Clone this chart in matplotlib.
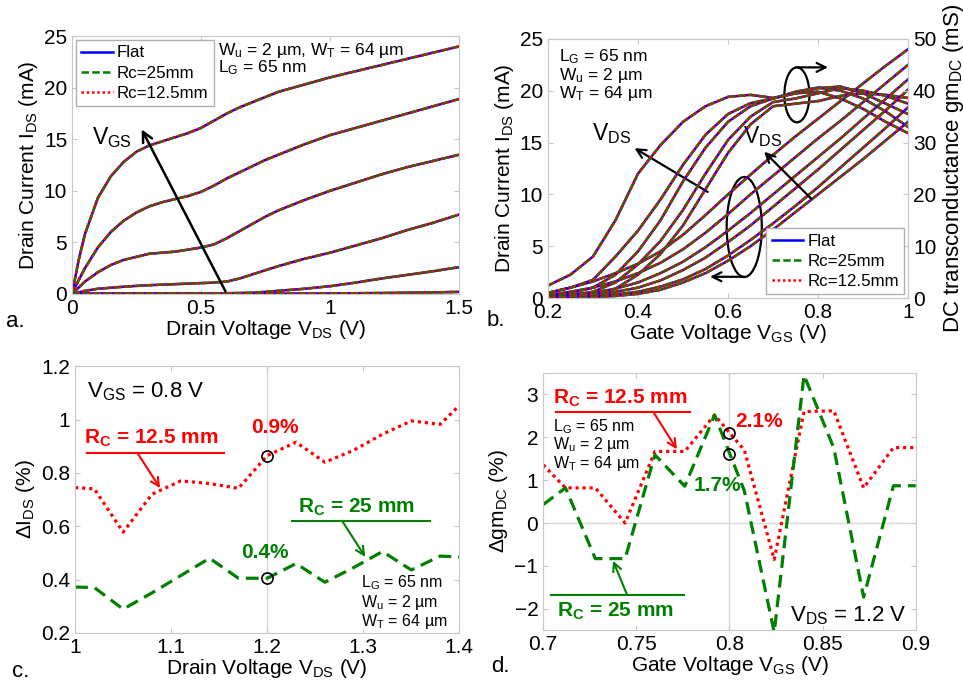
import matplotlib
matplotlib.use('Agg')
import numpy as np
import matplotlib.pyplot as plt
from matplotlib import rcParams
from matplotlib.patches import Ellipse

params = {
    'font.family': 'Liberation Sans',
    'font.size': 15,
    'xtick.labelsize': 15,
    'ytick.labelsize': 15,
    'mathtext.fontset': 'custom',
    'mathtext.rm': 'Liberation Sans',
    'mathtext.it': 'Liberation Sans:italic',
    'mathtext.bf': 'Liberation Sans:bold',
    'axes.edgecolor': '#c8c8c8',
    'xtick.color': '#c8c8c8',
    'ytick.color': '#c8c8c8',
    'xtick.labelcolor': 'black',
    'ytick.labelcolor': 'black',
    'xtick.direction': 'in',
    'ytick.direction': 'in',
    'xtick.top': True,
    'ytick.right': True,
}
rcParams.update(params)

BLUE = '#0000ff'
GREEN = '#008000'
RED = '#ff0000'

# ---- panel a: Ids vs Vds, one curve per Vgs step
vds_a = [0, 0.025, 0.05, 0.1, 0.15, 0.2, 0.25, 0.3, 0.35, 0.4, 0.45, 0.5, 0.55, 0.6,
         0.65, 0.7, 0.75, 0.8, 0.9, 1.0, 1.1, 1.2, 1.3, 1.4, 1.5]
ids_a1 = [0, 0.005, 0.01, 0.01, 0.01, 0.01, 0.01, 0.01, 0.01, 0.01, 0.01, 0.01, 0.01, 0.02,
          0.02, 0.02, 0.025, 0.03, 0.04, 0.05, 0.07, 0.09, 0.12, 0.15, 0.2]
ids_a2 = [0, 0.01, 0.02, 0.03, 0.04, 0.04, 0.05, 0.05, 0.05, 0.05, 0.05, 0.05, 0.06, 0.07,
          0.09, 0.12, 0.2, 0.3, 0.5, 0.75, 1.1, 1.5, 1.85, 2.2, 2.6]
ids_a3 = [0, 0.15, 0.3, 0.5, 0.6, 0.7, 0.78, 0.85, 0.9, 0.95, 1.0, 1.05, 1.1, 1.2,
          1.5, 1.9, 2.3, 2.7, 3.4, 4.0, 4.7, 5.4, 6.2, 6.9, 7.7]
ids_a4 = [0, 0.6, 1.2, 2.1, 2.8, 3.3, 3.6, 3.9, 4.0, 4.1, 4.3, 4.5, 4.8, 5.4,
          6.1, 6.8, 7.5, 8.1, 9.1, 10.0, 10.8, 11.6, 12.3, 12.9, 13.5]
ids_a5 = [0, 1.3, 2.5, 4.5, 6.0, 7.1, 7.9, 8.5, 8.9, 9.2, 9.5, 9.9, 10.5, 11.2,
          11.8, 12.4, 13.0, 13.5, 14.5, 15.4, 16.1, 16.8, 17.5, 18.2, 18.9]
ids_a6 = [0, 3.2, 5.8, 9.3, 11.4, 12.8, 13.8, 14.4, 14.8, 15.2, 15.6, 16.1, 16.8, 17.5,
          18.1, 18.6, 19.1, 19.6, 20.3, 21.0, 21.6, 22.2, 22.8, 23.4, 24.0]

# ---- panel b: Ids (left) and gm (right) vs Vgs, one curve per Vds step
vgs_b = [0.2, 0.25, 0.3, 0.35, 0.4, 0.45, 0.5, 0.55, 0.6, 0.65, 0.7, 0.75, 0.8, 0.85, 0.9, 0.95, 1.0]
ids_b1 = [0.5, 1.0, 1.6, 2.4, 3.3, 4.5, 6.1, 8.0, 10.0, 11.9, 13.8, 15.6, 17.3, 19.0, 20.7, 22.4, 24.0]
ids_b2 = [0.3, 0.6, 1.0, 1.6, 2.4, 3.4, 4.7, 6.3, 8.1, 10.0, 11.8, 13.6, 15.4, 17.1, 18.9, 20.7, 22.5]
ids_b3 = [0.15, 0.3, 0.5, 0.9, 1.5, 2.4, 3.5, 4.9, 6.5, 8.2, 10.0, 11.8, 13.6, 15.4, 17.3, 19.2, 21.1]
ids_b4 = [0.1, 0.2, 0.35, 0.6, 1.0, 1.7, 2.7, 3.9, 5.4, 7.0, 8.8, 10.6, 12.4, 14.3, 16.2, 18.1, 20.1]
ids_b5 = [0.05, 0.1, 0.2, 0.35, 0.6, 1.1, 1.8, 2.8, 4.1, 5.6, 7.2, 8.9, 10.7, 12.6, 14.5, 16.4, 18.4]
ids_b6 = [0.03, 0.06, 0.1, 0.2, 0.4, 0.8, 1.5, 2.4, 3.6, 5.0, 6.6, 8.3, 10.0, 11.7, 13.4, 15.2, 17.0]
gm_b1 = [2.4, 4.5, 8.0, 15.0, 24.0, 29.5, 34.0, 37.0, 38.8, 39.2, 38.6, 39.5, 39.8, 38.5, 36.5, 34.0, 31.8]
gm_b2 = [1.0, 2.0, 3.5, 8.0, 13.0, 19.0, 25.7, 31.5, 35.5, 37.6, 38.5, 39.8, 40.6, 40.0, 38.5, 36.0, 33.0]
gm_b3 = [0.4, 0.9, 2.0, 4.5, 9.0, 15.0, 22.5, 29.0, 34.0, 37.0, 38.5, 39.5, 40.5, 40.8, 39.5, 37.5, 35.5]
gm_b4 = [0.2, 0.5, 1.2, 3.0, 6.5, 11.0, 17.0, 24.0, 30.5, 35.0, 37.8, 38.5, 39.5, 40.5, 40.0, 39.0, 37.5]
gm_b5 = [0.1, 0.3, 0.7, 1.8, 4.5, 8.5, 14.0, 21.0, 28.0, 33.5, 37.0, 37.5, 38.0, 39.0, 39.5, 39.2, 38.6]

# ---- panel c: delta Ids vs Vds at Vgs = 0.8 V
vds_c = [1.0, 1.02, 1.05, 1.08, 1.11, 1.14, 1.17, 1.2, 1.23, 1.26, 1.29, 1.32, 1.35, 1.38, 1.4]
dids_rc125 = [0.745, 0.74, 0.578, 0.72, 0.77, 0.76, 0.742, 0.865, 0.915, 0.84, 0.885, 0.945, 0.995, 0.982, 1.053]
dids_rc25 = [0.372, 0.37, 0.289, 0.35, 0.415, 0.48, 0.405, 0.405, 0.46, 0.39, 0.445, 0.505, 0.436, 0.488, 0.485]

# ---- panel d: delta gm vs Vgs at Vds = 1.2 V
vgs_d = [0.7, 0.712, 0.728, 0.744, 0.76, 0.776, 0.792, 0.808, 0.824, 0.84, 0.856, 0.872, 0.888, 0.9]
dgm_rc125 = [1.36, 0.82, 0.82, 0.0, 1.67, 1.67, 2.52, 1.7, -0.85, 2.6, 2.62, 0.82, 1.76, 1.76]
dgm_rc25 = [0.43, 0.82, -0.83, -0.83, 1.59, 0.86, 2.52, 0.75, -2.55, 3.45, 1.75, -1.73, 0.87, 0.87]

styles = [(BLUE, '-', 'Flat'), (GREEN, (0, (3, 1.3)), 'Rc=25mm'), (RED, (0, (1, 1.1)), 'Rc=12.5mm')]

fig = plt.figure(figsize=(9.63, 6.82), dpi=100)
ax_a = fig.add_axes([0.0748, 0.569, 0.4018, 0.378])
ax_b = fig.add_axes([0.569, 0.563, 0.374, 0.38])
ax_c = fig.add_axes([0.078, 0.072, 0.399, 0.391])
ax_d = fig.add_axes([0.564, 0.076, 0.387, 0.377])

leg_kw = dict(fontsize=12.2, handlelength=1.85, fancybox=False, edgecolor='#b0b0b0', framealpha=1,
              borderaxespad=0.25, labelspacing=0.3, handletextpad=0.25, borderpad=0.3)


def draw3(ax, x, y, lw=1.8):
    hs = []
    for col, ls, name in styles:
        h, = ax.plot(x, y, color=col, linestyle=ls, lw=lw)
        hs.append(h)
    return hs


def sub(s, b):
    return s + '$_{\\mathrm{' + b + '}}$'


params_txt = [sub('L', 'G') + ' = 65 nm', sub('W', 'u') + ' = 2 µm', sub('W', 'T') + ' = 64 µm']

# panel a
handles = None
for y in [ids_a1, ids_a2, ids_a3, ids_a4, ids_a5, ids_a6]:
    hs = draw3(ax_a, vds_a, y)
    if handles is None:
        handles = hs
ax_a.set_xlim(0, 1.5)
ax_a.set_ylim(0, 25)
ax_a.set_xticks([0, 0.5, 1, 1.5])
ax_a.set_xticklabels(['0', '0.5', '1', '1.5'])
ax_a.set_yticks([0, 5, 10, 15, 20, 25])
ax_a.set_xlabel('Drain Voltage ' + sub('V', 'DS') + ' (V)', labelpad=0)
ax_a.set_ylabel('Drain Current ' + sub('I', 'DS') + ' (mA)', labelpad=3)
ax_a.legend(handles, [s[2] for s in styles], loc='upper left', **leg_kw)
ax_a.text(0.566, 23.6, sub('W', 'u') + ' = 2 µm, ' + sub('W', 'T') + ' = 64 µm', fontsize=12.5, va='center')
ax_a.text(0.566, 21.9, sub('L', 'G') + ' = 65 nm', fontsize=12.5, va='center')
ax_a.annotate('', xy=(0.265, 16.2), xytext=(0.6, 0),
              arrowprops=dict(arrowstyle='->', color='k', lw=1.8, mutation_scale=18))
ax_a.text(0.155, 15.2, sub('V', 'GS'), fontsize=16.5, ha='center', va='center')

# panel b
ax_b2 = ax_b.twinx()
ax_b2.set_zorder(ax_b.get_zorder() + 1)
for y in [ids_b1, ids_b2, ids_b3, ids_b4, ids_b5, ids_b6]:
    draw3(ax_b, vgs_b, y)
for y in [gm_b1, gm_b2, gm_b3, gm_b4, gm_b5]:
    draw3(ax_b2, vgs_b, y)
ax_b.set_xlim(0.2, 1)
ax_b.set_ylim(0, 25)
ax_b2.set_ylim(0, 50)
ax_b.set_xticks([0.2, 0.4, 0.6, 0.8, 1.0])
ax_b.set_xticklabels(['0.2', '0.4', '0.6', '0.8', '1'])
ax_b.set_yticks([0, 5, 10, 15, 20, 25])
ax_b2.set_yticks([0, 10, 20, 30, 40, 50])
ax_b.tick_params(right=False)
ax_b.set_xlabel('Gate Voltage ' + sub('V', 'GS') + ' (V)', labelpad=0)
ax_b.set_ylabel('Drain Current ' + sub('I', 'DS') + ' (mA)', labelpad=3)
ax_b2.set_ylabel('DC transconductance gm' + sub('', 'DC') + ' (mS)', labelpad=3, fontsize=16)
ax_b2.legend(handles, [s[2] for s in styles], loc='lower right', **leg_kw)
for k, t in enumerate(params_txt):
    ax_b.text(0.225, 23.3 - 1.8 * k, t, fontsize=12.5, va='center')
ax_b.add_patch(Ellipse((0.753, 19.6), 0.0556, 5.3, fill=False, color='k', lw=1.6))
ax_b.annotate('', xy=(0.822, 22.25), xytext=(0.752, 22.25),
              arrowprops=dict(arrowstyle='->', color='k', lw=1.6, mutation_scale=16, shrinkA=0, shrinkB=0))
ax_b.add_patch(Ellipse((0.636, 6.85), 0.078, 9.65, fill=False, color='k', lw=1.6))
ax_b.annotate('', xy=(0.56, 2.05), xytext=(0.637, 2.05),
              arrowprops=dict(arrowstyle='->', color='k', lw=1.6, mutation_scale=16, shrinkA=0, shrinkB=0))
ax_b.annotate('', xy=(0.387, 14.6), xytext=(0.56, 10.1),
              arrowprops=dict(arrowstyle='->', color='k', lw=1.6, mutation_scale=16))
ax_b.text(0.342, 15.9, sub('V', 'DS'), fontsize=16.5, ha='center', va='center')
ax_b.annotate('', xy=(0.676, 14.3), xytext=(0.789, 9.4),
              arrowprops=dict(arrowstyle='->', color='k', lw=1.6, mutation_scale=16))
ax_b.text(0.676, 15.6, sub('V', 'DS'), fontsize=16.5, ha='center', va='center')

# panel c
ax_c.axvline(1.2, color='#d8d8d8', lw=1, zorder=0)
ax_c.plot(vds_c, dids_rc125, color=RED, linestyle=(0, (1, 1.2)), lw=2.3)
ax_c.plot(vds_c, dids_rc25, color=GREEN, linestyle=(0, (4, 2.2)), lw=2.3)
ax_c.plot([1.2, 1.2], [0.865, 0.405], 'o', mfc='none', mec='k', ms=8, mew=1.2)
ax_c.set_xlim(1, 1.4)
ax_c.set_ylim(0.2, 1.2)
ax_c.set_xticks([1, 1.1, 1.2, 1.3, 1.4])
ax_c.set_xticklabels(['1', '1.1', '1.2', '1.3', '1.4'])
ax_c.set_yticks([0.2, 0.4, 0.6, 0.8, 1.0, 1.2])
ax_c.set_yticklabels(['0.2', '0.4', '0.6', '0.8', '1', '1.2'])
ax_c.set_xlabel('Drain Voltage ' + sub('V', 'DS') + ' (V)', labelpad=0)
ax_c.set_ylabel('$\\Delta$' + sub('I', 'DS') + ' (%)', labelpad=3)
ax_c.text(1.0125, 1.103, sub('V', 'GS') + ' = 0.8 V', fontsize=16, va='center')
ax_c.text(1.009, 0.93, 'R$_{\\mathbf{C}}$ = 12.5 mm', fontsize=15, va='center', color=RED, fontweight='bold')
ax_c.plot([1.0125, 1.155], [0.874, 0.874], color=RED, lw=1.5)
ax_c.annotate('', xy=(1.0885, 0.743), xytext=(1.065, 0.874),
              arrowprops=dict(arrowstyle='->', color=RED, lw=1.5, mutation_scale=15, shrinkA=0, shrinkB=0))
ax_c.text(1.208, 0.972, '0.9%', fontsize=15, ha='center', va='center', color=RED, fontweight='bold')
ax_c.text(1.232, 0.672, 'R$_{\\mathbf{C}}$ = 25 mm', fontsize=15, va='center', color=GREEN, fontweight='bold')
ax_c.plot([1.226, 1.369], [0.62, 0.62], color=GREEN, lw=1.5)
ax_c.annotate('', xy=(1.302, 0.485), xytext=(1.278, 0.62),
              arrowprops=dict(arrowstyle='->', color=GREEN, lw=1.5, mutation_scale=15, shrinkA=0, shrinkB=0))
ax_c.text(1.198, 0.503, '0.4%', fontsize=15, ha='center', va='center', color=GREEN, fontweight='bold')
for k, t in enumerate(params_txt):
    ax_c.text(1.298, 0.387 - 0.073 * k, t, fontsize=11.5, va='center')

# panel d
ax_d.axvline(0.8, color='#d8d8d8', lw=1, zorder=0)
ax_d.axhline(0, color='#d8d8d8', lw=1, zorder=0)
ax_d.plot(vgs_d, dgm_rc125, color=RED, linestyle=(0, (1, 1.2)), lw=2.3)
ax_d.plot(vgs_d, dgm_rc25, color=GREEN, linestyle=(0, (4, 2.2)), lw=2.3)
ax_d.plot([0.8, 0.8], [2.1, 1.6], 'o', mfc='none', mec='k', ms=8, mew=1.2)
ax_d.set_xlim(0.7, 0.9)
ax_d.set_ylim(-2.5, 3.5)
ax_d.set_xticks([0.7, 0.75, 0.8, 0.85, 0.9])
ax_d.set_xticklabels(['0.7', '0.75', '0.8', '0.85', '0.9'])
ax_d.set_yticks([-2, -1, 0, 1, 2, 3])
ax_d.set_xlabel('Gate Voltage ' + sub('V', 'GS') + ' (V)', labelpad=0)
ax_d.set_ylabel('$\\Delta$gm' + sub('', 'DC') + ' (%)', labelpad=3)
ax_d.text(0.7054, 2.9, 'R$_{\\mathbf{C}}$ = 12.5 mm', fontsize=15, va='center', color=RED, fontweight='bold')
ax_d.plot([0.707, 0.7788], [2.6, 2.6], color=RED, lw=1.5)
ax_d.annotate('', xy=(0.7718, 1.72), xytext=(0.759, 2.6),
              arrowprops=dict(arrowstyle='->', color=RED, lw=1.5, mutation_scale=15, shrinkA=0, shrinkB=0))
for k, t in enumerate(params_txt):
    ax_d.text(0.7054, 2.26 - 0.43 * k, t, fontsize=11.5, va='center')
ax_d.text(0.8158, 2.37, '2.1%', fontsize=15, ha='center', va='center', color=RED, fontweight='bold')
ax_d.text(0.7933, 0.88, '1.7%', fontsize=15, ha='center', va='center', color=GREEN, fontweight='bold')
ax_d.text(0.7075, -2.07, 'R$_{\\mathbf{C}}$ = 25 mm', fontsize=15, va='center', color=GREEN, fontweight='bold')
ax_d.plot([0.7043, 0.7756], [-1.67, -1.67], color=GREEN, lw=1.5)
ax_d.annotate('', xy=(0.7375, -0.88), xytext=(0.745, -1.67),
              arrowprops=dict(arrowstyle='->', color=GREEN, lw=1.5, mutation_scale=15, shrinkA=0, shrinkB=0))
ax_d.text(0.8952, -2.16, sub('V', 'DS') + ' = 1.2 V', fontsize=16, ha='right', va='center')

# panel letters
fig.text(0.006, 0.528, 'a.', fontsize=16, va='center')
fig.text(0.505, 0.53, 'b.', fontsize=16, va='center')
fig.text(0.012, 0.015, 'c.', fontsize=16, va='center')
fig.text(0.51, 0.022, 'd.', fontsize=16, va='center')

plt.savefig('out.png', dpi=100)
